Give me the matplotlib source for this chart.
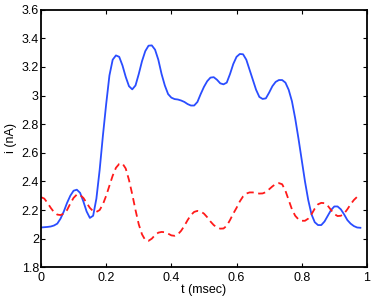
import numpy as np
import matplotlib
matplotlib.use('Agg')
import matplotlib.pyplot as plt

plt.rcParams['font.family'] = ['Liberation Sans', 'DejaVu Sans']

# sample times (msec)
t = np.round(np.arange(0, 0.985, 0.01), 2)

# blue solid curve (nA)
i_blue = [2.078, 2.080, 2.082, 2.085, 2.092, 2.105, 2.14, 2.19, 2.25, 2.30,
          2.335, 2.342, 2.32, 2.26, 2.19, 2.145, 2.16, 2.28, 2.48, 2.72,
          2.94, 3.14, 3.25, 3.28, 3.27, 3.21, 3.13, 3.065, 3.043, 3.07,
          3.15, 3.24, 3.31, 3.348, 3.35, 3.32, 3.25, 3.15, 3.07, 3.01,
          2.985, 2.975, 2.972, 2.965, 2.955, 2.94, 2.93, 2.93, 2.955, 3.01,
          3.06, 3.10, 3.125, 3.128, 3.11, 3.085, 3.078, 3.09, 3.15, 3.22,
          3.27, 3.29, 3.288, 3.25, 3.18, 3.11, 3.04, 2.99, 2.976, 2.98,
          3.02, 3.065, 3.095, 3.108, 3.108, 3.09, 3.04, 2.96, 2.84, 2.70,
          2.55, 2.40, 2.27, 2.17, 2.115, 2.095, 2.095, 2.12, 2.16, 2.20,
          2.225, 2.225, 2.205, 2.17, 2.13, 2.105, 2.088, 2.078, 2.076]

# red dashed curve (nA)
i_red = [2.29, 2.28, 2.25, 2.215, 2.185, 2.168, 2.165, 2.175, 2.20, 2.245,
         2.285, 2.308, 2.305, 2.285, 2.25, 2.215, 2.192, 2.187, 2.20, 2.24,
         2.30, 2.37, 2.44, 2.495, 2.522, 2.525, 2.49, 2.41, 2.31, 2.20,
         2.10, 2.03, 1.99, 1.985, 2.0, 2.025, 2.042, 2.047, 2.045, 2.035,
         2.023, 2.02, 2.03, 2.055, 2.09, 2.13, 2.165, 2.187, 2.194, 2.19,
         2.175, 2.15, 2.12, 2.095, 2.078, 2.07, 2.071, 2.09, 2.13, 2.175,
         2.215, 2.26, 2.295, 2.315, 2.323, 2.323, 2.318, 2.315, 2.316, 2.325,
         2.345, 2.365, 2.382, 2.388, 2.38, 2.335, 2.27, 2.205, 2.16, 2.135,
         2.125, 2.125, 2.14, 2.17, 2.21, 2.24, 2.25, 2.248, 2.23, 2.20,
         2.172, 2.158, 2.16, 2.175, 2.205, 2.24, 2.27, 2.292, 2.30]

xticks = [0, 0.2, 0.4, 0.6, 0.8, 1]
xlabels = ['0', '0.2', '0.4', '0.6', '0.8', '1']
yticks = [1.8, 2, 2.2, 2.4, 2.6, 2.8, 3, 3.2, 3.4, 3.6]
ylabels = ['1.8', '2', '2.2', '2.4', '2.6', '2.8', '3', '3.2', '3.4', '3.6']

fig = plt.figure(figsize=(3.74, 3.0), dpi=100)
ax = fig.add_axes([0.1096, 0.109, 0.8714, 0.859])

ax.plot(t, i_blue, color='#2a4dff', lw=1.3)
ax.plot(t, i_red, color='#ff1a1a', lw=1.3, ls=(0, (4, 2.5)))

ax.set_xlim(0, 1)
ax.set_ylim(1.8, 3.6)
ax.set_xticks(xticks)
ax.set_xticklabels(xlabels)
ax.set_yticks(yticks)
ax.set_yticklabels(ylabels)
ax.tick_params(direction='in', top=True, right=True, length=3, labelsize=9)
ax.tick_params(axis='x', pad=3.5)
ax.tick_params(axis='y', pad=1.5)
for s in ax.spines.values():
    s.set_linewidth(1.3)

ax.set_xlabel('t (msec)', fontsize=9, labelpad=0)
ax.set_ylabel('i (nA)', fontsize=9, labelpad=3)

fig.savefig('out.png', dpi=100)
